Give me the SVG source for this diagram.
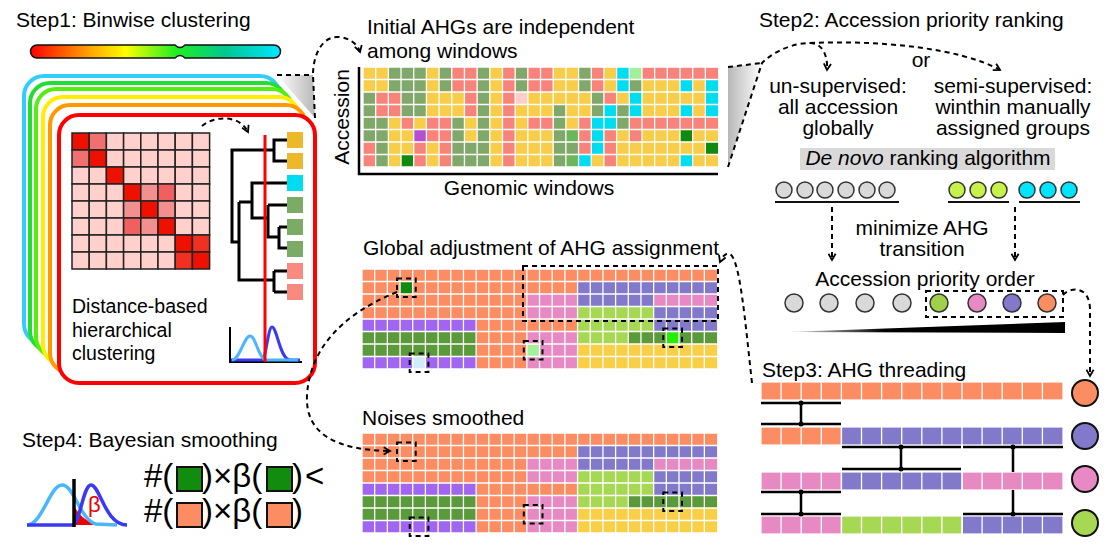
<svg xmlns="http://www.w3.org/2000/svg" xmlns:xlink="http://www.w3.org/1999/xlink" width="1111" height="560" viewBox="0 0 1111 560">
<style>
text{font-family:"Liberation Sans",Arial,sans-serif;fill:#000}
.t{font-size:21px}
.c{text-anchor:middle}
.dash{fill:none;stroke:#000;stroke-width:2;stroke-dasharray:5 4}
.dbox{fill:none;stroke:#000;stroke-width:2;stroke-dasharray:5 4}
.ln{fill:none;stroke:#000;stroke-width:3}
.O{fill:#fc8d62}.B{fill:#8279cb}.P{fill:#e78ac3}.L{fill:#a6d854}.Yb{fill:#f8cf47}.V{fill:#a066f0}.G{fill:#5a9a3a}
.y{fill:#f7cd4a}.g{fill:#80a86b}.s{fill:#f8837a}.cy{fill:#00dcf0}
.grid{fill:none;stroke:#fff;stroke-width:1.3}
.mx rect{stroke:#222;stroke-width:1.5}
.circ{stroke:#333;stroke-width:1.5}
.big{stroke:#111;stroke-width:2}
.cell{stroke:#fff;stroke-width:1.2}
</style>
<defs>
<linearGradient id="bar" x1="0" x2="1" y1="0" y2="0">
<stop offset="0" stop-color="#ff0000"/><stop offset="0.2" stop-color="#ff8c00"/><stop offset="0.38" stop-color="#ffff00"/><stop offset="0.58" stop-color="#22ee22"/><stop offset="0.78" stop-color="#00c890"/><stop offset="1" stop-color="#00e6ff"/>
</linearGradient>
<linearGradient id="gl" x1="0" x2="1" y1="0" y2="0"><stop offset="0" stop-color="#ffffff"/><stop offset="1" stop-color="#b8b8b8"/></linearGradient>
<linearGradient id="gr" x1="0" x2="1" y1="0" y2="0"><stop offset="0" stop-color="#b8b8b8"/><stop offset="1" stop-color="#ffffff"/></linearGradient>
<linearGradient id="wedge" x1="0" x2="1" y1="0" y2="0"><stop offset="0" stop-color="#e0e0e0"/><stop offset="0.35" stop-color="#000"/><stop offset="1" stop-color="#000"/></linearGradient>
<marker id="ah" viewBox="0 0 10 10" refX="8" refY="5" markerWidth="9" markerHeight="9" markerUnits="userSpaceOnUse" orient="auto"><path d="M1,1 L8,5 L1,9" fill="none" stroke="#000" stroke-width="2"/></marker>
<path id="g28" class="grid" d="M0,0v100m12.68,-100v100m12.68,-100v100m12.68,-100v100m12.68,-100v100m12.68,-100v100m12.68,-100v100m12.68,-100v100m12.68,-100v100m12.68,-100v100m12.68,-100v100m12.68,-100v100m12.68,-100v100m12.68,-100v100m12.68,-100v100m12.68,-100v100m12.68,-100v100m12.68,-100v100m12.68,-100v100m12.68,-100v100m12.68,-100v100m12.68,-100v100m12.68,-100v100m12.68,-100v100m12.68,-100v100m12.68,-100v100m12.68,-100v100m12.68,-100v100M0,0h355M0,12.5h355M0,25h355M0,37.5h355M0,50h355M0,62.5h355M0,75h355M0,87.5h355M0,100h355"/>
</defs>
<rect width="1111" height="560" fill="#fff"/>

<!-- STEP 1 -->
<g id="step1">
<text class="t" x="16" y="27">Step1: Binwise clustering</text>
<path d="M37,45 L175,45 Q180,50 185,45 L274,45 A6.5,6.5 0 0 1 274,58 L185,58 Q180,53 175,58 L37,58 A6.5,6.5 0 0 1 37,45 Z" fill="url(#bar)" stroke="#111" stroke-width="1.5"/>
<polygon points="277,75 313,75 315,118" fill="url(#gl)"/>
<g fill="#fff" stroke-width="4">
<rect x="24" y="76" width="256" height="268" rx="20" stroke="#33ccff"/>
<rect x="30" y="83" width="256" height="268" rx="20" stroke="#22dd33"/>
<rect x="36" y="89" width="256" height="268" rx="20" stroke="#55ee11"/>
<rect x="43" y="97" width="256" height="268" rx="20" stroke="#ffee00"/>
<rect x="50" y="105" width="256" height="268" rx="20" stroke="#ff9900"/>
<rect x="59" y="115" width="256" height="268" rx="20" stroke="#ff0000"/>
</g>
<g class="mx" transform="translate(72,133)">
<g fill="#ffd0cc">
<rect x="0" y="0" width="17.2" height="17" fill="#ee1100"/><rect x="17.2" y="0" width="17.2" height="17" fill="#f07070"/><rect x="34.4" y="0" width="17.2" height="17"/><rect x="51.6" y="0" width="17.2" height="17"/><rect x="68.8" y="0" width="17.2" height="17"/><rect x="86" y="0" width="17.2" height="17"/><rect x="103.2" y="0" width="17.2" height="17"/><rect x="120.4" y="0" width="17.2" height="17"/>
<rect x="0" y="17" width="17.2" height="17" fill="#f07070"/><rect x="17.2" y="17" width="17.2" height="17" fill="#ee1100"/><rect x="34.4" y="17" width="17.2" height="17"/><rect x="51.6" y="17" width="17.2" height="17"/><rect x="68.8" y="17" width="17.2" height="17"/><rect x="86" y="17" width="17.2" height="17"/><rect x="103.2" y="17" width="17.2" height="17"/><rect x="120.4" y="17" width="17.2" height="17"/>
<rect x="0" y="34" width="17.2" height="17"/><rect x="17.2" y="34" width="17.2" height="17"/><rect x="34.4" y="34" width="17.2" height="17" fill="#ee1100"/><rect x="51.6" y="34" width="17.2" height="17"/><rect x="68.8" y="34" width="17.2" height="17"/><rect x="86" y="34" width="17.2" height="17"/><rect x="103.2" y="34" width="17.2" height="17"/><rect x="120.4" y="34" width="17.2" height="17"/>
<rect x="0" y="51" width="17.2" height="17"/><rect x="17.2" y="51" width="17.2" height="17"/><rect x="34.4" y="51" width="17.2" height="17"/><rect x="51.6" y="51" width="17.2" height="17" fill="#ee1100"/><rect x="68.8" y="51" width="17.2" height="17" fill="#f29090"/><rect x="86" y="51" width="17.2" height="17" fill="#f06060"/><rect x="103.2" y="51" width="17.2" height="17"/><rect x="120.4" y="51" width="17.2" height="17"/>
<rect x="0" y="68" width="17.2" height="17"/><rect x="17.2" y="68" width="17.2" height="17"/><rect x="34.4" y="68" width="17.2" height="17"/><rect x="51.6" y="68" width="17.2" height="17" fill="#f29090"/><rect x="68.8" y="68" width="17.2" height="17" fill="#ee1100"/><rect x="86" y="68" width="17.2" height="17" fill="#f29090"/><rect x="103.2" y="68" width="17.2" height="17"/><rect x="120.4" y="68" width="17.2" height="17"/>
<rect x="0" y="85" width="17.2" height="17"/><rect x="17.2" y="85" width="17.2" height="17"/><rect x="34.4" y="85" width="17.2" height="17"/><rect x="51.6" y="85" width="17.2" height="17" fill="#f06060"/><rect x="68.8" y="85" width="17.2" height="17" fill="#f29090"/><rect x="86" y="85" width="17.2" height="17" fill="#ee1100"/><rect x="103.2" y="85" width="17.2" height="17"/><rect x="120.4" y="85" width="17.2" height="17"/>
<rect x="0" y="102" width="17.2" height="17"/><rect x="17.2" y="102" width="17.2" height="17"/><rect x="34.4" y="102" width="17.2" height="17"/><rect x="51.6" y="102" width="17.2" height="17"/><rect x="68.8" y="102" width="17.2" height="17"/><rect x="86" y="102" width="17.2" height="17"/><rect x="103.2" y="102" width="17.2" height="17" fill="#ee1100"/><rect x="120.4" y="102" width="17.2" height="17" fill="#f03020"/>
<rect x="0" y="119" width="17.2" height="17"/><rect x="17.2" y="119" width="17.2" height="17"/><rect x="34.4" y="119" width="17.2" height="17"/><rect x="51.6" y="119" width="17.2" height="17"/><rect x="68.8" y="119" width="17.2" height="17"/><rect x="86" y="119" width="17.2" height="17"/><rect x="103.2" y="119" width="17.2" height="17" fill="#f03020"/><rect x="120.4" y="119" width="17.2" height="17" fill="#ee1100"/>
</g>
</g>
<path class="ln" d="M287,140H274V161H287M274,150H232V242H239M287,183H252V218H268M268,205H287M268,205V237H279M279,227H287M279,227V248H287M239,202H252M239,202V280H274M274,271V292M274,271H287M274,292H287"/>
<g>
<rect x="287" y="132" width="16" height="16" fill="#ebb92a"/><rect x="287" y="153" width="16" height="16" fill="#ebb92a"/>
<rect x="287" y="175" width="16" height="16" fill="#00dcf0"/>
<rect x="287" y="197" width="16" height="16" fill="#7bab65"/><rect x="287" y="219" width="16" height="16" fill="#7bab65"/><rect x="287" y="241" width="16" height="16" fill="#7bab65"/>
<rect x="287" y="263" width="16" height="16" fill="#f88a80"/><rect x="287" y="284" width="16" height="16" fill="#f88a80"/>
</g>
<path d="M230,327V362H302" fill="none" stroke="#000" stroke-width="2"/>
<path d="M231,360 L262,360 C266,360 268,327 272,327 C277,327 280,360 290,360 L300,360" fill="none" stroke="#3a3af5" stroke-width="3"/>
<path d="M232,360 C240,360 244,336 250,336 C256,336 258,358 266,360 L298,360" fill="none" stroke="#4ab6ff" stroke-width="3"/>
<path d="M265,135V362" stroke="#ff0000" stroke-width="3"/>
<text x="72" y="313" style="font-size:19.5px">Distance-based</text>
<text x="72" y="337" style="font-size:19.5px">hierarchical</text>
<text x="72" y="360" style="font-size:19.5px">clustering</text>
</g>

<!-- Initial AHG heatmap -->
<g id="heatmap">
<text class="t" x="367" y="34">Initial AHGs are independent</text>
<text class="t" x="367" y="58">among windows</text>
<polygon points="728,67 762,63 728,167" fill="url(#gr)"/>
<g transform="translate(363,67) scale(12.68,12.5)">
<rect width="28" height="8" class="y"/>
<g class="g"><rect x="2" y="0" width="3" height="2"/><rect x="6" y="0" width="1" height="2"/><rect x="9" y="0" width="1" height="4"/><rect x="12" y="0" width="1" height="2"/><rect x="17" y="0" width="1" height="2"/><rect x="21" y="1" width="1" height="1"/>
<rect x="0" y="2" width="1" height="3"/><rect x="3" y="2" width="2" height="2"/><rect x="18" y="2" width="1" height="2"/><rect x="15" y="3" width="1" height="2"/><rect x="20" y="3" width="1" height="2"/>
<rect x="1" y="4" width="1" height="4"/><rect x="0" y="5" width="1" height="1"/><rect x="7" y="4" width="1" height="4"/><rect x="9" y="4" width="1" height="4"/><rect x="8" y="6" width="1" height="2"/><rect x="15" y="5" width="1" height="3"/><rect x="16" y="6" width="1" height="1"/></g>
<g class="s"><rect x="7" y="0" width="2" height="2"/><rect x="11" y="0" width="1" height="8"/><rect x="13" y="0" width="2" height="2"/><rect x="18" y="0" width="1" height="2"/><rect x="22" y="0" width="6" height="1"/>
<rect x="1" y="2" width="2" height="2"/><rect x="8" y="2" width="1" height="2"/><rect x="19" y="2" width="1" height="1"/>
<rect x="3" y="4" width="1" height="1"/><rect x="5" y="4" width="2" height="2"/><rect x="13" y="4" width="2" height="1"/><rect x="17" y="4" width="1" height="3"/><rect x="21" y="4" width="7" height="1"/>
<rect x="19" y="5" width="1" height="3"/><rect x="21" y="5" width="1" height="1"/><rect x="0" y="6" width="1" height="2"/><rect x="4" y="6" width="1" height="2"/><rect x="6" y="6" width="1" height="2"/></g>
<g class="cy"><rect x="20" y="0" width="1" height="2"/><rect x="25" y="1" width="1" height="1"/><rect x="27" y="1" width="1" height="3"/><rect x="21" y="2" width="1" height="2"/><rect x="19" y="3" width="1" height="1"/><rect x="25" y="3" width="1" height="1"/><rect x="18" y="4" width="2" height="1"/><rect x="18" y="5" width="1" height="2"/><rect x="17" y="7" width="1" height="1"/><rect x="25" y="7" width="1" height="1"/></g>
<rect x="21" y="0" width="1" height="1" fill="#a2f09a"/>
<rect x="12" y="2" width="1" height="1" fill="#ffcccc"/>
<rect x="4" y="5" width="1" height="1" fill="#b44fd0"/>
<rect x="16" y="5" width="1" height="1" fill="#6db55a"/><rect x="16" y="7" width="1" height="1" fill="#6db55a"/>
<g fill="#108a10"><rect x="25" y="5" width="1" height="1"/><rect x="27" y="6" width="1" height="1"/><rect x="3" y="7" width="1" height="1"/></g>
</g>
<use xlink:href="#g28" href="#g28" transform="translate(363,67)" style="stroke:#fbf3e0"/>
<path d="M359,67V174H718" fill="none" stroke="#000" stroke-width="2.5"/>
<text class="t c" transform="translate(349,117) rotate(-90)">Accession</text>
<text class="t c" x="529" y="195">Genomic windows</text>
</g>

<!-- STEP 2 -->
<g id="step2">
<text class="t" x="759" y="27">Step2: Accession priority ranking</text>
<text class="t c" x="921" y="67">or</text>
<text class="t c" x="838" y="93">un-supervised:</text>
<text class="t c" x="838" y="114">all accession</text>
<text class="t c" x="838" y="135">globally</text>
<text class="t c" x="1013" y="93">semi-supervised:</text>
<text class="t c" x="1013" y="114">winthin manually</text>
<text class="t c" x="1013" y="135">assigned groups</text>
</g>
<g id="denovo">
<rect x="800" y="148" width="255" height="22" fill="#d9d9d9"/>
<text class="t c" x="928" y="165"><tspan font-style="italic">De novo</tspan> ranking algorithm</text>
</g>
<g id="groups">
<g fill="#d9d9d9" class="circ"><circle cx="784" cy="190" r="8"/><circle cx="805" cy="190" r="8"/><circle cx="825" cy="190" r="8"/><circle cx="846" cy="190" r="8"/><circle cx="867" cy="190" r="8"/><circle cx="887" cy="190" r="8"/></g>
<g fill="#c6f24a" class="circ"><circle cx="957" cy="190" r="8"/><circle cx="978" cy="190" r="8"/><circle cx="999" cy="190" r="8"/></g>
<g fill="#00e5ff" class="circ"><circle cx="1027" cy="190" r="8"/><circle cx="1048" cy="190" r="8"/><circle cx="1069" cy="190" r="8"/></g>
<path d="M775,202H899M948,202H1009M1019,202H1080" stroke="#111" stroke-width="2"/>
<text class="t c" x="922" y="235">minimize AHG</text>
<text class="t c" x="922" y="256">transition</text>
</g>
<g id="priority">
<text class="t c" x="925" y="286">Accession priority order</text>
<g class="circ"><circle cx="794" cy="303" r="9" fill="#d9d9d9"/><circle cx="829" cy="303" r="9" fill="#d9d9d9"/><circle cx="865" cy="303" r="9" fill="#d9d9d9"/><circle cx="902" cy="303" r="9" fill="#d9d9d9"/>
<circle cx="939" cy="303" r="9" fill="#9fd24a"/><circle cx="977" cy="303" r="9" fill="#e78ac3"/><circle cx="1012" cy="303" r="9" fill="#8279cb"/><circle cx="1047" cy="303" r="9" fill="#fc8d62"/></g>
<rect class="dbox" x="926" y="291" width="137" height="26"/>
<polygon points="788,332 1065,322 1065,333" fill="url(#wedge)"/>
</g>

<!-- Global adjustment -->
<g id="global">
<text class="t" x="363" y="255">Global adjustment of AHG assignment</text>
<g transform="translate(362,269) scale(12.68,12.5)">
<rect width="28" height="8" class="O"/>
<rect x="17" y="1" width="11" height="1" class="B"/>
<rect x="13" y="2" width="4" height="2" class="P"/><rect x="23" y="2" width="5" height="1" class="P"/><rect x="13" y="5" width="4" height="3" class="P"/>
<rect x="17" y="2" width="6" height="1" class="B"/><rect x="23" y="3" width="5" height="2" class="B"/>
<rect x="17" y="3" width="6" height="2" class="L"/><rect x="17" y="5" width="4" height="1" class="L"/>
<rect x="0" y="4" width="9" height="1" class="V"/><rect x="0" y="7" width="9" height="1" class="V"/>
<rect x="0" y="5" width="9" height="2" class="G"/><rect x="21" y="5" width="7" height="1" class="G"/>
<rect x="17" y="6" width="11" height="2" class="Yb"/>
<rect x="3" y="1" width="1" height="1" fill="#108a10"/>
<rect x="24" y="5" width="1" height="1" fill="#22ee00"/>
<rect x="13" y="6" width="1" height="1" fill="#a2f09a"/>
<rect x="4" y="7" width="1" height="1" fill="#d0ecf8"/>
</g>
<use xlink:href="#g28" href="#g28" transform="translate(362,269)"/>
<rect class="dbox" x="397" y="278.5" width="18.7" height="18.5"/>
<rect class="dbox" x="409.7" y="353.5" width="18.7" height="18.5"/>
<rect class="dbox" x="523.8" y="341" width="18.7" height="18.5"/>
<rect class="dbox" x="663.3" y="328.5" width="18.7" height="18.5"/>
<rect class="dbox" x="523" y="266" width="195" height="55"/>
</g>

<!-- Noises smoothed -->
<g id="smoothed">
<text class="t" x="362" y="425">Noises smoothed</text>
<g transform="translate(362,433) scale(12.68,12.5)">
<rect width="28" height="8" class="O"/>
<rect x="17" y="1" width="11" height="1" class="B"/>
<rect x="13" y="2" width="4" height="2" class="P"/><rect x="23" y="2" width="5" height="1" class="P"/><rect x="13" y="5" width="4" height="3" class="P"/>
<rect x="17" y="2" width="6" height="1" class="B"/><rect x="23" y="3" width="5" height="2" class="B"/>
<rect x="17" y="3" width="6" height="2" class="L"/><rect x="17" y="5" width="4" height="1" class="L"/>
<rect x="0" y="4" width="9" height="1" class="V"/><rect x="0" y="7" width="9" height="1" class="V"/>
<rect x="0" y="5" width="9" height="2" class="G"/><rect x="21" y="5" width="7" height="1" class="G"/>
<rect x="17" y="6" width="11" height="2" class="Yb"/>
</g>
<use xlink:href="#g28" href="#g28" transform="translate(362,433)"/>
<rect class="dbox" x="397" y="442.5" width="18.7" height="18.5"/>
<rect class="dbox" x="409.7" y="517.5" width="18.7" height="18.5"/>
<rect class="dbox" x="523.8" y="505" width="18.7" height="18.5"/>
<rect class="dbox" x="663.3" y="492.5" width="18.7" height="18.5"/>
</g>

<!-- STEP 3 -->
<g id="step3">
<text class="t" x="762" y="377">Step3: AHG threading</text>
<g class="cell">
<rect x="761" y="382" width="302" height="18" class="O"/>
<rect x="761" y="427" width="80.5" height="18" class="O"/><rect x="841.5" y="427" width="221.5" height="18" class="B"/>
<rect x="761" y="472" width="80.5" height="18" class="P"/><rect x="841.5" y="472" width="120.8" height="18" class="B"/><rect x="962.3" y="472" width="100.7" height="18" class="P"/>
<rect x="761" y="516" width="80.5" height="18" class="P"/><rect x="841.5" y="516" width="120.8" height="18" class="L"/><rect x="962.3" y="516" width="100.7" height="18" class="B"/>
</g>
<path stroke="#fff" stroke-width="1.3" d="M781.1,382v18m20.1,-18v18m20.1,-18v18m20.1,-18v18m20.1,-18v18m20.1,-18v18m20.1,-18v18m20.1,-18v18m20.1,-18v18m20.1,-18v18m20.1,-18v18m20.1,-18v18m20.1,-18v18m20.1,-18v18M781.1,427v18m20.1,-18v18m20.1,-18v18m20.1,-18v18m20.1,-18v18m20.1,-18v18m20.1,-18v18m20.1,-18v18m20.1,-18v18m20.1,-18v18m20.1,-18v18m20.1,-18v18m20.1,-18v18m20.1,-18v18M781.1,472v18m20.1,-18v18m20.1,-18v18m20.1,-18v18m20.1,-18v18m20.1,-18v18m20.1,-18v18m20.1,-18v18m20.1,-18v18m20.1,-18v18m20.1,-18v18m20.1,-18v18m20.1,-18v18m20.1,-18v18M781.1,516v18m20.1,-18v18m20.1,-18v18m20.1,-18v18m20.1,-18v18m20.1,-18v18m20.1,-18v18m20.1,-18v18m20.1,-18v18m20.1,-18v18m20.1,-18v18m20.1,-18v18m20.1,-18v18m20.1,-18v18"/>
<path fill="none" stroke="#000" stroke-width="2.5" d="M761,403H841M801,403V424M761,424H841M842,447H961M901,447V469M842,469H961M963,447H1063M1013,447V472M761,492H841M801,492V514M761,514H841M1013,490V514M963,514H1063"/>
<g fill="#000"><circle cx="801" cy="403" r="2.5"/><circle cx="801" cy="424" r="2.5"/><circle cx="901" cy="447" r="2.5"/><circle cx="901" cy="469" r="2.5"/><circle cx="1013" cy="447" r="2.5"/><circle cx="801" cy="492" r="2.5"/><circle cx="801" cy="514" r="2.5"/><circle cx="1013" cy="514" r="2.5"/></g>
<g class="big"><circle cx="1085" cy="393" r="13" class="O"/><circle cx="1085" cy="436" r="13" class="B"/><circle cx="1085" cy="479" r="13" class="P"/><circle cx="1085" cy="523" r="13" class="L"/></g>
</g>

<!-- STEP 4 -->
<g id="step4">
<text class="t" x="22" y="447">Step4: Bayesian smoothing</text>
<path d="M74,506 C80,516 86,522 100,525 L74,525 Z" fill="#ee0000"/>
<path d="M27,525 C42,525 50,485 62,485 C74,485 80,520 96,524 L117,525" fill="none" stroke="#4ab6ff" stroke-width="3.5"/>
<path d="M27,525 L72,525 C80,525 83,485 91,485 C100,485 105,525 127,525" fill="none" stroke="#3a3af5" stroke-width="3.5"/>
<path d="M74,479V527" stroke="#000" stroke-width="3.5"/>
<text x="88" y="512" style="font-size:22px;fill:#ee0000">β</text>
<g style="font-size:33px">
<text x="144" y="487">#(</text><text x="202" y="487">)×β(</text><text x="292" y="487">)</text><text x="305" y="487">&lt;</text>
<text x="144" y="522">#(</text><text x="202" y="522">)×β(</text><text x="292" y="522">)</text>
</g>
<g stroke="#111" stroke-width="2">
<rect x="177" y="467" width="25" height="24" fill="#128c0e"/><rect x="267" y="467" width="25" height="24" fill="#128c0e"/>
<rect x="177" y="503" width="25" height="24" fill="#fc8d62"/><rect x="267" y="503" width="25" height="24" fill="#fc8d62"/>
</g>
</g>

<!-- CONNECTORS -->
<g id="connectors">
<path class="dash" d="M277,75H313"/>
<path class="dash" d="M315,118 L313,75 C313,55 322,37 337,37 C350,37 358,45 360,52" marker-end="url(#ah)"/>
<path class="dash" d="M202,126 C215,115 240,115 248,132" marker-end="url(#ah)"/>
<path class="dash" d="M728,67 L762,63"/>
<path class="dash" d="M728,167 L762,63 C775,50 795,43 810,43"/>
<path class="dash" d="M810,43 C822,43 828,55 827,70" marker-end="url(#ah)"/>
<path class="dash" d="M810,43 C880,40 960,48 1000,70" marker-end="url(#ah)"/>
<path class="dash" d="M832,207 V260" marker-end="url(#ah)"/>
<path class="dash" d="M1015,207 V260" marker-end="url(#ah)"/>
<path class="dash" d="M1063,295 C1070,287 1090,285 1090,310 L1090,376" marker-end="url(#ah)"/>
<path class="dash" d="M752,383 C745,320 740,260 730,254 C726,252 722,257 720,262" marker-end="url(#ah)"/>
<path class="dash" d="M397,292 C340,315 310,350 307,395 C305,430 330,450 390,451" marker-end="url(#ah)"/>
</g>
</svg>
